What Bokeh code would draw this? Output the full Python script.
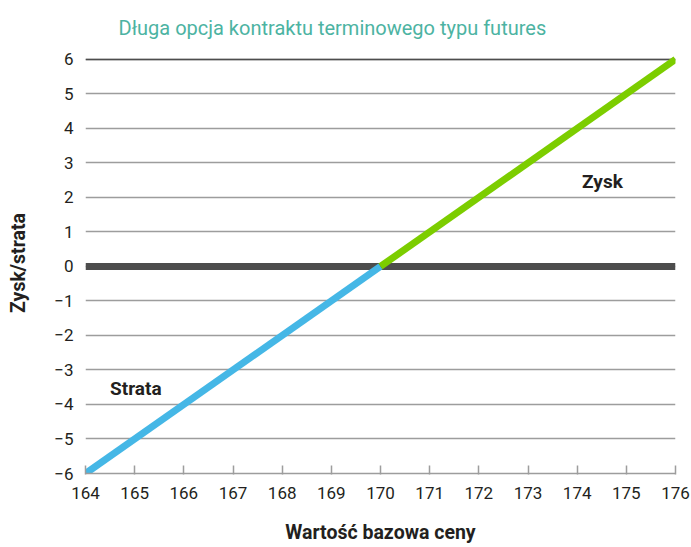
from bokeh.plotting import figure
from bokeh.models import Range1d, FixedTicker, Span, Label
from bokeh.embed import file_html
from bokeh.resources import INLINE

# Data
title_text = "Długa opcja kontraktu terminowego typu futures"
x_label = "Wartość bazowa ceny"
y_label = "Zysk/strata"
x_ticks = [164, 165, 166, 167, 168, 169, 170, 171, 172, 173, 174, 175, 176]
y_ticks = [-6, -5, -4, -3, -2, -1, 0, 1, 2, 3, 4, 5, 6]
loss_x = [164, 170]
loss_y = [-6, 0]
gain_x = [170, 176]
gain_y = [0, 6]
zero_level = 0
top_level = 6
annotations = [("Zysk", 174.1, 2.45), ("Strata", 164.5, -3.55)]

FONT = "Roboto"
p = figure(frame_width=590, frame_height=421, output_backend="svg", toolbar_location=None,
           x_range=Range1d(164, 176), y_range=Range1d(-6, 6.2),
           min_border_left=85, min_border_right=16, min_border_top=51, min_border_bottom=75)
p.outline_line_color = None
p.background_fill_color = "white"
p.border_fill_color = "white"

p.title.text = title_text
p.title.align = "left"
p.title.offset = 33
p.title.text_font = FONT
p.title.text_font_style = "normal"
p.title.text_font_size = "20px"
p.title.text_color = "#4cb3a2"
p.title.standoff = 26

# grid
p.xgrid.visible = False
p.ygrid.ticker = FixedTicker(ticks=y_ticks)
p.ygrid.grid_line_color = "#9d9d9d"
p.ygrid.grid_line_width = 1.5

# x axis
xa = p.xaxis[0]
xa.ticker = FixedTicker(ticks=x_ticks)
xa.axis_line_color = "#9d9d9d"
xa.axis_line_width = 1.5
xa.major_tick_line_color = "#9d9d9d"
xa.major_tick_line_width = 1.5
xa.major_tick_in = 8
xa.major_tick_out = 1
xa.minor_tick_line_color = None
xa.major_label_text_font = FONT
xa.major_label_text_font_size = "17px"
xa.major_label_text_color = "#231f20"
xa.major_label_standoff = 12
xa.axis_label = x_label
xa.axis_label_text_font = FONT
xa.axis_label_text_font_style = "bold"
xa.axis_label_text_font_size = "19.5px"
xa.axis_label_text_color = "#231f20"
xa.axis_label_standoff = 19

ya = p.yaxis[0]
ya.ticker = FixedTicker(ticks=y_ticks)
ya.axis_line_color = None
ya.major_tick_line_color = None
ya.minor_tick_line_color = None
ya.major_tick_in = 0
ya.major_tick_out = 0
ya.major_label_text_font = FONT
ya.major_label_text_font_size = "17px"
ya.major_label_text_color = "#231f20"
ya.major_label_standoff = 12
ya.axis_label = y_label
ya.axis_label_text_font = FONT
ya.axis_label_text_font_style = "bold"
ya.axis_label_text_font_size = "19.5px"
ya.axis_label_text_color = "#231f20"
ya.axis_label_standoff = 21

p.add_layout(Span(location=top_level, dimension="width", line_color="#4d4d4d", line_width=1.5, level="underlay"))
p.add_layout(Span(location=zero_level, dimension="width", line_color="#4d4d4d", line_width=7, level="underlay"))

p.line(loss_x, loss_y, line_color="#45b7e6", line_width=7, line_cap="butt")
p.line(gain_x, gain_y, line_color="#7ccd00", line_width=7, line_cap="butt")

for txt, lx, ly in annotations:
    p.add_layout(Label(x=lx, y=ly, text=txt, text_font=FONT, text_font_style="bold",
                       text_font_size="19px", text_color="#231f20", text_baseline="middle"))

open("out.html", "w").write(file_html(p, INLINE))
